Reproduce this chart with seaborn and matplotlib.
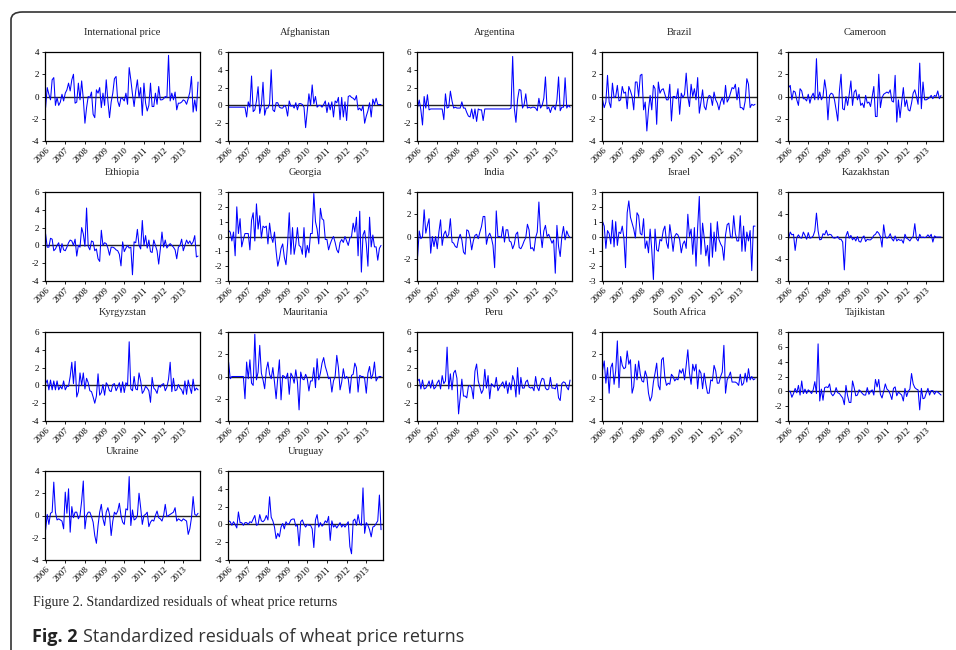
import numpy as np
import pandas as pd
import matplotlib
matplotlib.use("Agg")
import matplotlib.pyplot as plt
import seaborn as sns
from matplotlib.patches import FancyBboxPatch

# --- data: standardized residuals, monthly, 2006M01 .. 2013M10 ---
START_YEAR = 2006
years = [2006, 2007, 2008, 2009, 2010, 2011, 2012, 2013]

intl_price = [-1.0, 0.8, 0.2, -0.3, 1.5, 1.7, -0.8, -0.1, -0.8, -0.5, 0.2, -0.4,
              0.3, 0.6, 1.2, 0.5, 1.5, 2.0, -0.6, -0.5, 1.2, -0.3, 1.4, -0.2,
              -2.4, -1.0, 0.0, -0.1, 0.4, -1.6, -1.9, 0.6, 0.3, 0.8, -1.0, 0.3,
              -0.8, 1.5, -0.4, -1.9, -0.5, 0.3, 1.6, 1.8, -0.4, -0.9, -0.1, -0.2,
              -0.4, 0.3, -0.7, 2.6, 1.5, 0.2, -0.9, 0.5, 1.5, -0.1, 0.8, -1.7,
              1.2, -0.6, -1.3, -0.8, 1.2, -0.9, -0.9, 0.3, -0.7, 0.9, -0.3, -0.3,
              -0.2, 0.0, -0.1, 3.7, -0.4, 0.3, -0.3, 0.4, -1.2, -0.6, -0.6, -0.5,
              -0.3, -0.4, -0.7, -0.2, 0.4, 1.8, -1.4, -0.3, -1.3, 1.3]
afghanistan = [-0.2, -0.2, -0.2, -0.2, -0.2, -0.2, -0.2, -0.2, -0.2, -0.2, -0.2, -1.3,
               0.4, -0.2, 3.3, -0.7, -0.5, 0.5, 2.1, -0.9, 0.0, 2.6, -1.1, -0.3,
               -0.3, 0.2, 4.0, -0.5, -0.7, 0.3, 0.3, -0.2, -0.3, -0.3, 0.0, -0.2,
               -1.2, 0.5, -0.1, 0.0, -0.3, 0.3, -0.5, 0.2, 0.2, 0.1, -0.2, -2.5,
               -0.6, 1.3, 0.0, 2.3, 0.2, 1.0, -0.2, 0.0, 0.0, -0.2, 0.1, 0.5,
               -0.8, 0.3, -0.5, 0.4, -1.3, 0.5, 0.3, 0.9, -1.6, 0.9, -1.3, 0.4,
               -1.7, 1.0, 1.1, 0.9, 0.8, 0.6, 1.1, -0.5, -0.3, -0.6, 0.0, -2.0,
               -1.2, -0.6, 0.3, -1.3, 0.7, 0.1, 0.8, 0.1, 0.1, 0.1]
argentina = [-0.2, 0.6, -0.5, -2.2, 1.0, -0.3, 1.2, -0.5, -0.4, -0.4, -0.4, -0.4,
             -0.4, -0.4, -0.4, -0.4, -1.6, 1.3, -0.3, -0.2, 1.6, 0.5, -0.3, -0.2,
             -0.3, -0.3, -0.3, 0.4, -0.3, -0.3, -0.8, -1.2, -1.3, -0.4, -1.5, -0.4,
             -1.8, -0.4, -0.5, -0.5, -1.7, -0.4, -0.4, -0.4, -0.4, -0.4, -0.4, -0.4,
             -0.4, -0.4, -0.4, -0.4, -0.4, -0.4, -0.4, -0.4, -0.4, -0.3, 5.5, -0.3,
             -1.9, 0.7, 1.8, 1.7, -0.3, 0.1, 1.3, -0.3, -0.2, -0.3, -0.2, -0.2,
             -0.3, -0.6, 0.8, -0.3, 0.0, 0.8, 3.2, -0.4, -0.2, -0.8, -0.2, -0.1,
             -0.5, 0.6, 3.2, -0.6, -0.2, -0.2, 3.1, -0.3, 0.0, -0.2]
brazil = [-0.3, -1.0, -0.5, 1.9, -0.5, -1.0, 1.2, -0.1, 0.0, 1.0, -0.4, -0.3,
          0.9, 0.3, 0.4, -1.1, 0.9, 0.5, 0.0, -1.2, 1.3, 1.3, 0.0, 1.9,
          2.0, -1.2, -0.5, -3.1, -1.2, 0.1, -1.2, 1.0, 0.7, -2.5, 1.3, 0.3,
          0.6, 0.7, 0.2, -0.3, -0.3, 1.1, -2.2, 0.0, 0.0, -0.2, 0.7, -1.6,
          0.3, -0.1, 0.2, 2.1, 0.0, -0.9, 1.1, 0.0, 0.7, -0.3, 1.7, -1.5,
          -0.5, 0.6, -0.9, -1.2, -0.3, 0.1, 0.0, -0.8, 0.4, -0.3, -0.6, -1.2,
          -0.5, -0.1, -0.7, 1.0, -0.5, -0.2, 0.3, 0.8, 0.7, 1.1, -0.3, 0.8,
          -1.0, -1.0, -1.2, -0.4, 1.6, 1.1, -1.0, -0.7, -0.8, -0.7]
cameroon = [0.8, 1.0, -0.3, 0.5, 0.4, -0.3, -0.8, 0.7, 0.5, -0.2, -0.2, -0.4,
            0.2, -0.6, 0.0, 0.3, -0.3, 3.4, -0.3, 0.4, -0.3, 0.0, 1.5, 0.5,
            -2.1, 0.1, 0.3, 0.2, -0.3, -1.2, -2.2, 0.5, 2.0, -1.1, -1.2, 0.0,
            -0.8, 0.2, 1.4, -0.8, 0.4, 0.6, -0.3, 0.2, -0.8, -0.6, -1.0, 0.1,
            -0.6, -0.5, -0.9, 0.0, 0.9, -1.8, -1.8, 2.0, -1.0, -0.1, 0.2, 0.3,
            0.4, 0.3, 0.6, -0.4, -0.5, 1.9, -2.3, -0.3, -1.9, -0.5, 0.8, -0.9,
            -0.3, -1.2, -1.3, -0.6, 0.3, 0.6, 0.0, -0.7, 3.0, -1.1, 1.3, -0.3,
            -0.3, -0.2, -0.1, 0.1, -0.2, 0.1, 0.0, 0.5, -0.2, 0.1]
ethiopia = [1.3, -0.2, -0.2, 0.8, 0.7, -0.6, -0.4, 0.0, 0.3, -0.8, 0.2, -0.5,
            -0.6, -0.2, 0.3, 0.6, 0.5, 0.0, 0.7, -1.2, 0.0, -0.2, 2.0, 1.3,
            -0.1, 4.2, -0.1, -0.5, 0.5, 0.4, -0.6, -0.4, -1.5, -1.8, 1.7, 0.0,
            0.3, 0.2, -0.3, -1.1, -0.2, -0.2, -0.3, -0.5, -0.6, -1.0, -2.3, 0.4,
            -0.7, -0.3, 0.0, -0.3, -0.2, -3.3, 0.4, 0.3, 1.8, 0.0, -0.4, 2.8,
            0.0, 1.1, -0.3, 0.6, -0.7, -0.8, 0.6, 0.0, -0.6, -2.1, -0.4, 1.5,
            -0.2, 0.6, -0.3, 0.0, 0.2, 0.0, -0.2, -0.5, -1.5, -0.2, 0.0, 0.7,
            -0.6, 0.0, 0.6, 0.2, 0.5, 0.1, 0.4, 1.1, -1.3, -1.2]
georgia = [0.4, 0.3, -0.3, 0.3, -1.3, 2.0, 0.2, 1.2, -0.7, -0.2, 0.2, 0.2,
           0.2, -0.9, 1.1, 1.6, -0.3, 2.2, 0.5, 1.4, -0.1, 0.7, 0.6, 0.7,
           -0.5, 0.9, 0.0, -0.4, 0.3, -1.0, -2.0, -1.5, -0.8, -0.5, -1.4, -1.9,
           -0.5, 1.6, -1.2, 0.6, -1.2, -0.5, 0.6, -0.6, -0.7, -1.2, 0.6, -1.4,
           -0.6, -1.1, 0.2, 0.2, 2.9, 1.0, 0.5, -0.5, 1.9, 1.2, 1.1, -0.2,
           -0.2, -0.9, -0.5, -0.2, 0.0, -0.4, -0.9, -1.1, -0.4, -0.2, -0.4, 0.0,
           -0.3, -0.6, -0.1, 0.0, 0.9, 0.3, 1.3, -1.3, 1.7, -2.4, 0.1, 0.4,
           -0.5, -2.0, 1.3, -0.7, 0.1, -0.7, -0.7, -1.6, -0.8, -0.6]
india = [-1.8, 0.5, -0.2, 0.0, 2.4, 0.3, 1.0, 1.6, -1.5, 0.0, -0.9, 0.0,
         -1.1, 0.4, 1.5, -0.8, 0.2, 0.5, -0.1, 0.2, 1.6, -0.5, -0.6, -0.9,
         -1.0, -0.2, 0.2, -0.3, -1.4, -1.6, 0.6, 0.5, -0.1, -1.2, -0.4, 0.1,
         0.2, -0.2, 0.4, 0.9, 1.8, 1.8, -0.7, 0.0, 0.3, -0.1, -0.8, -2.8,
         2.3, 0.0, 0.0, -0.1, 0.9, -0.5, 0.6, 0.6, -0.4, -0.5, -1.1, -0.7,
         0.2, 0.4, -1.0, -1.1, -0.8, -0.4, -0.1, 1.1, 0.6, -1.1, -1.0, -1.3,
         -0.1, 0.4, 3.1, 0.3, -1.0, 0.5, 1.0, 0.0, 0.2, -0.2, -0.6, -0.3,
         -3.3, 1.0, -0.9, -1.8, 0.0, 0.9, -0.3, 0.5, 0.1, -0.1]
israel = [1.0, 0.7, -0.8, 0.4, 0.2, -0.5, 1.1, -0.7, 1.0, -0.6, 0.3, 0.2,
          0.7, -0.1, -2.1, 1.6, 2.4, 1.3, 0.9, 0.5, -0.1, 1.6, 1.4, 0.2,
          0.1, 1.2, -0.8, -0.3, -1.1, 0.5, -0.9, -2.9, 0.5, -0.9, -1.0, -0.2,
          -0.3, 0.4, 0.7, -0.4, -0.8, 0.8, 0.0, -1.0, 0.0, 0.2, 0.1, -0.2,
          -1.1, -0.5, -0.3, -0.8, 1.5, 0.0, 0.5, -1.2, 0.6, -2.0, 0.6, 2.7,
          -1.2, 0.9, -0.1, -1.3, -0.6, -2.0, 0.9, -1.4, 0.3, -1.0, 1.0, -0.2,
          -0.5, -0.7, -1.6, 0.1, 0.8, 0.9, 0.0, -0.1, 1.4, 0.2, -0.3, -0.3,
          1.4, -1.0, 0.7, -1.0, 0.3, -0.3, 0.4, -2.3, 0.7, 0.7]
kazakhstan = [-0.4, 0.8, 0.3, 0.4, -2.5, -0.2, 0.3, -0.2, -0.3, 0.8, 0.2, -0.5,
              0.7, -0.3, -0.2, 0.1, 1.0, 4.2, 1.0, -0.6, -0.5, 0.5, 0.3, 1.1,
              0.2, 0.4, 0.3, -0.2, -0.3, -0.2, 0.0, -0.5, -0.5, -1.0, -6.0, 0.1,
              0.9, -0.3, 0.2, -0.6, -0.2, -0.8, 0.0, -0.9, -1.0, -0.2, 0.1, -0.9,
              -0.5, -0.6, -0.6, -0.3, 0.2, 0.4, 0.9, 0.6, 0.0, -1.9, 2.1, 0.0,
              -0.3, -0.1, 0.5, -0.4, -0.8, 0.1, -0.8, -0.5, -0.7, -0.6, -1.2, 0.4,
              -0.3, -0.5, -0.8, -0.3, 0.0, 2.3, -0.4, -0.8, 0.4, -0.2, -0.1, -0.2,
              -0.1, 0.3, -0.1, 0.4, -1.0, 0.1, -0.1, -0.1, -0.1, -0.1]
kyrgyzstan = [0.2, 0.6, -0.5, 0.6, -0.5, 0.5, -0.5, 0.5, -0.5, -0.1, -0.4, 0.5,
              -0.5, -0.1, -0.1, 1.0, 2.6, 0.2, 2.7, -1.3, -0.7, 1.4, 0.0, 1.4,
              -0.4, 0.8, 0.3, -0.6, -0.7, -1.3, -2.0, -1.2, 1.3, -1.1, -0.8, 0.1,
              -1.1, 0.3, 0.0, -0.6, -0.7, 0.1, 0.2, -0.6, -0.2, 0.3, -0.8, 0.4,
              -0.8, 0.3, 0.0, 4.9, -0.4, -0.6, 1.0, -0.4, -0.5, 1.4, 0.5, -0.9,
              -0.6, -0.1, -0.3, -0.6, -1.9, 0.9, -0.3, -0.5, -0.9, 0.0, -0.2, 0.1,
              0.2, -0.6, -0.2, 0.7, 2.6, -0.7, 0.8, -0.6, -0.5, 0.1, -0.3, -0.5,
              -1.0, 0.5, -1.0, 0.6, -0.2, -0.9, 0.7, -0.6, -0.3, -0.5]
mauritania = [1.3, -0.2, 0.0, 0.0, 0.0, 0.0, 0.0, 0.0, 0.0, 0.0, -2.0, 1.3,
              -0.2, 1.5, -0.6, -0.8, 3.8, -0.3, 0.4, 2.8, 0.3, -0.3, -1.1, 0.6,
              1.3, 0.2, -0.2, 0.8, -0.5, -2.0, -0.1, 1.5, -2.1, 0.1, 0.0, -0.2,
              0.3, -1.6, 0.3, 0.0, -0.6, 0.6, -0.5, -3.0, 0.4, -0.2, -0.3, 0.2,
              -0.2, -1.3, -0.4, -0.4, 0.8, -1.0, 1.6, -0.3, 0.3, 1.2, 1.7, 0.9,
              0.4, -0.2, -0.1, -1.4, -0.4, 0.0, 1.9, 0.8, -1.2, -0.5, 0.7, -0.2,
              0.0, -0.2, -1.5, 0.1, 0.2, 1.2, 0.8, -1.4, 0.1, 0.0, 0.0, -0.2,
              -1.5, 0.3, 0.9, -0.2, 0.2, 1.3, -0.4, -0.1, 0.0, 0.0]
peru = [0.5, 0.7, -0.4, 0.6, -0.4, -0.3, 0.0, 0.5, -0.3, 0.6, -0.4, -0.2,
        0.3, 0.6, -0.4, 1.1, 0.2, 0.5, 4.3, -0.4, 1.3, -0.5, 1.4, 1.7,
        0.8, -3.2, -1.3, 0.7, -1.2, -1.2, -1.4, -0.1, 0.0, -0.3, -1.5, 1.6,
        2.4, 0.5, -0.2, -0.9, -0.5, 1.8, -0.3, 1.1, -1.5, 0.2, 0.0, -0.2,
        0.9, -0.6, -0.2, 0.1, 0.4, -0.3, 0.5, -0.9, 0.3, -0.5, 1.1, 0.5,
        -1.3, 2.0, -1.0, 0.9, -0.3, -0.3, 0.4, 0.6, -0.2, -0.3, -0.2, -0.6,
        1.0, -0.2, -0.6, 0.3, 0.8, 0.7, -0.3, -0.5, -0.4, 0.9, -0.3, -0.3,
        -0.4, 0.2, -1.4, -1.7, 0.2, 0.4, 0.3, -0.2, -0.5, 0.6]
south_africa = [0.6, 1.4, -0.6, 0.8, -1.5, 0.8, 1.2, -0.7, 0.5, 3.2, -1.0, 1.8,
                1.0, 0.7, 0.8, 2.3, 1.1, 1.5, -1.5, -0.9, 1.1, -0.3, 1.4, 0.2,
                -0.4, -0.5, 0.5, 0.0, -1.5, -2.2, -1.8, -0.5, 0.3, 1.2, -0.8, -1.2,
                1.5, 1.7, -0.1, -0.8, -0.6, -0.7, 0.2, 0.0, -0.4, -0.2, -0.3, 0.6,
                0.3, 0.7, -0.3, 1.0, 2.4, 0.3, -0.7, 1.1, 0.5, 1.1, -1.1, 0.6,
                0.3, -1.1, 0.3, -0.7, -1.5, -1.5, -0.3, -0.4, 1.0, 0.5, -0.6, -0.6,
                0.0, 0.4, 2.8, -1.5, -0.3, 0.0, 0.4, -0.5, -0.5, -0.5, -0.6, -0.8,
                0.2, -0.8, -0.6, 0.3, -0.5, 0.7, -0.3, 0.0, -0.3, -0.2]
tajikistan = [0.0, 0.0, -0.8, -0.3, 0.4, -0.2, 0.8, -0.5, 1.4, -0.3, 0.3, -0.3,
              0.2, 0.0, -0.3, 0.2, 1.3, -0.3, 6.4, -1.3, 0.3, -1.2, 0.5, 0.6,
              0.5, 1.0, -0.3, -0.6, -0.3, 0.5, -0.2, -0.3, -0.6, -0.9, -1.8, 0.8,
              -0.6, -1.5, -1.5, 1.4, 0.5, -0.6, -0.5, 0.2, 0.0, -0.3, -0.5, -0.5,
              0.5, -0.4, 0.0, 0.2, -0.5, 1.6, 0.6, 1.6, -0.4, -0.9, 0.0, 1.0,
              0.3, 0.1, -0.4, -1.1, 0.4, 0.6, -0.6, -0.1, -0.3, -0.5, -1.3, 0.4,
              -0.7, 0.0, 0.3, 2.4, 1.0, 0.5, 0.3, 0.2, -2.5, 0.4, -1.0, -0.9,
              -0.2, 0.4, -0.5, 0.1, 0.1, -0.4, 0.0, -0.1, -0.3, -0.5]
ukraine = [-1.3, 0.1, -0.8, 0.2, 0.3, 3.0, 0.3, -0.4, -0.3, -0.4, -0.5, -1.2,
           2.1, 0.2, 2.4, -1.5, 0.8, -0.2, 0.3, 0.3, -0.3, 0.0, 1.3, 3.1,
           -1.2, 0.0, 0.3, 0.3, -0.1, -0.6, -1.8, -2.5, -0.9, 0.3, 1.0, -0.3,
           -0.9, 0.3, 0.7, 0.1, -1.8, -0.5, 0.3, 0.1, 0.4, 1.1, 0.0, -0.6,
           -0.8, 0.6, 0.5, 3.5, -0.9, 0.5, -0.4, -0.3, 0.0, 2.0, 0.7, -0.8,
           0.0, 0.1, 0.3, -1.0, -0.6, -0.4, -0.5, 0.0, 0.4, -0.2, -0.3, -0.5,
           0.0, 1.0, -0.1, 0.0, 0.1, 0.2, 0.3, 0.7, -0.5, -0.3, -0.4, -0.5,
           -0.3, -0.4, -0.5, -1.7, -1.2, -0.2, 1.7, 0.1, 0.0, 0.2]
uruguay = [0.4, 0.3, -0.1, 0.3, 0.0, -0.4, 1.4, 0.2, 0.2, -0.1, 0.2, 0.2,
           0.0, 0.3, 0.2, 0.6, 1.0, -0.1, 0.0, 1.1, 0.4, 0.3, 0.5, 1.0,
           0.5, 3.1, 0.8, 0.4, -0.3, -1.6, -1.0, -1.4, -0.3, 0.1, -0.5, 0.3,
           0.0, 0.1, 0.5, 0.6, 0.6, -0.2, -0.1, -2.4, 0.3, 0.5, 0.0, -0.3,
           0.0, -0.1, -0.1, -0.5, -2.6, 0.5, 1.1, -0.3, 0.2, -0.2, 0.0, 0.4,
           0.2, 0.9, -1.8, 0.4, -0.3, -0.1, -0.4, -0.1, 0.2, -0.3, 0.0, -0.3,
           0.0, 0.3, -2.5, -3.3, 0.4, 0.6, -0.1, 1.1, 0.1, -0.1, 4.1, -1.0,
           0.2, -0.1, -0.6, -1.4, -0.3, -0.2, 0.1, 0.4, 3.3, -0.6]

panel_titles = ["International price", "Afghanistan", "Argentina", "Brazil", "Cameroon",
                "Ethiopia", "Georgia", "India", "Israel", "Kazakhstan",
                "Kyrgyzstan", "Mauritania", "Peru", "South Africa", "Tajikistan",
                "Ukraine", "Uruguay"]
panel_series = [intl_price, afghanistan, argentina, brazil, cameroon,
                ethiopia, georgia, india, israel, kazakhstan,
                kyrgyzstan, mauritania, peru, south_africa, tajikistan,
                ukraine, uruguay]
# y-axis ticks of each panel
panel_yticks = [[-4, -2, 0, 2, 4], [-4, -2, 0, 2, 4, 6], [-4, -2, 0, 2, 4, 6],
                [-4, -2, 0, 2, 4], [-4, -2, 0, 2, 4],
                [-4, -2, 0, 2, 4, 6], [-3, -2, -1, 0, 1, 2, 3], [-4, -2, 0, 2, 4],
                [-3, -2, -1, 0, 1, 2, 3], [-8, -4, 0, 4, 8],
                [-4, -2, 0, 2, 4, 6], [-4, -2, 0, 2, 4], [-4, -2, 0, 2, 4, 6],
                [-4, -2, 0, 2, 4], [-4, -2, 0, 2, 4, 6, 8],
                [-4, -2, 0, 2, 4], [-4, -2, 0, 2, 4, 6]]

# long table for seaborn
rows = []
for name, vals in zip(panel_titles, panel_series):
    for i, v in enumerate(vals):
        rows.append({"country": name, "t": START_YEAR + i / 12.0, "resid": v})
df = pd.DataFrame(rows)

sns.set_style("white")
plt.rcParams["font.family"] = ["Liberation Serif", "DejaVu Serif"]

W, H = 956, 650
fig = plt.figure(figsize=(W / 100, H / 100), dpi=100)

# rounded frame around the whole figure
frame = FancyBboxPatch((11 / W, -0.2), 1.2, 1 - 12 / H + 0.2,
                       boxstyle="round,pad=0,rounding_size=0.012",
                       transform=fig.transFigure, fill=False,
                       edgecolor="#333333", linewidth=1.2)
fig.patches.append(frame)

col_left = [45, 228, 417, 602, 788]
row_top = [52, 192, 332, 471]
ax_w, ax_h = 155, 89

for k, name in enumerate(panel_titles):
    r, c = divmod(k, 5)
    left = col_left[c] / W
    bottom = 1 - (row_top[r] + ax_h) / H
    ax = fig.add_axes([left, bottom, ax_w / W, ax_h / H])
    sub = df[df["country"] == name]
    ax.axhline(0, color="#222222", linewidth=1.0, zorder=1)
    sns.lineplot(data=sub, x="t", y="resid", ax=ax, color="#0000ff",
                 linewidth=0.75, zorder=2)
    yt = panel_yticks[k]
    ax.set_ylim(yt[0], yt[-1])
    ax.set_yticks(yt)
    ax.set_yticklabels([str(v) for v in yt])
    ax.set_xlim(2005.97, 2013.85)
    ax.set_xticks(years)
    ax.set_xticklabels([str(y) for y in years], rotation=45, ha="right",
                       rotation_mode="anchor")
    ax.tick_params(axis="both", labelsize=6.5, length=2.5, width=0.6,
                   direction="out", pad=1.5, colors="#000000")
    ax.tick_params(axis="both", bottom=True, left=True)
    for sp in ax.spines.values():
        sp.set_color("#000000")
        sp.set_linewidth(0.9)
    ax.set_xlabel("")
    ax.set_ylabel("")
    ax.set_title(name, fontsize=7.5, pad=12)

fig.text(33 / W, 1 - 602 / H, "Figure 2. Standardized residuals of wheat price returns",
         fontsize=10, va="center", ha="left", family=["Liberation Serif"])

# bold "Fig. 2" followed by the plain caption
fig.canvas.draw()
renderer = fig.canvas.get_renderer()
t1 = fig.text(32 / W, 1 - 637 / H, "Fig. 2", fontsize=13, fontweight="bold",
              va="center", ha="left", family=["Open Sans", "DejaVu Sans"], color="#222222")
bb = t1.get_window_extent(renderer=renderer)
fig.text((bb.x1 + 5) / W, 1 - 637 / H, "Standardized residuals of wheat price returns",
         fontsize=13, va="center", ha="left", family=["Open Sans", "DejaVu Sans"],
         color="#333333")

fig.savefig("out.png", dpi=100)
